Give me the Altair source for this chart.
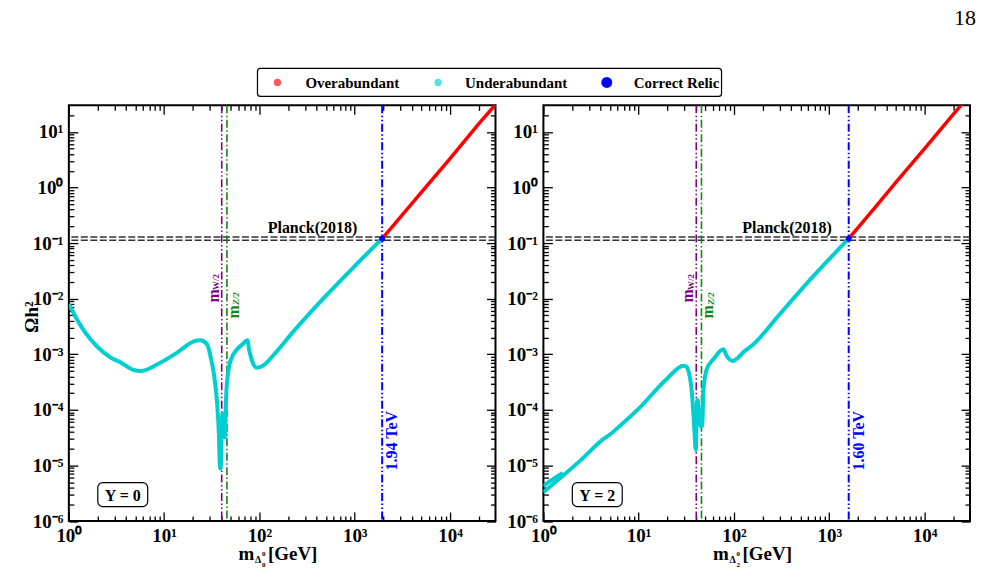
import altair as alt
import pandas as pd

SERIF = "Liberation Serif"

# ---------------- data ----------------
# Relic abundance vs. neutral scalar mass, hypercharge Y = 0
Y0_UNDER_M = [1.0, 1.09, 1.45, 2.0, 2.75, 3.5, 4.8, 5.7, 8.5, 13.7,
              20.5, 24.1, 28.3, 30.7, 33.2, 36.1, 37.5, 38.4, 39.0, 39.8,
              40.8, 41.5, 42.5, 43.3, 44.0, 45.0, 47.0, 49.7, 58.4, 66.0,
              75.4, 77.3, 81.8, 87.0, 94.6, 110.0, 130.0, 160.0, 220.0, 500.0,
              1000.0, 1940.0]
Y0_UNDER_OMEGA = [8.0e-3, 6.0e-3, 2.6e-3, 1.35e-3, 8.7e-4, 7.1e-4, 5.2e-4, 5.0e-4, 6.6e-4, 1.07e-3,
                  1.7e-3, 1.79e-3, 1.5e-3, 9.0e-4, 4.5e-4, 1.2e-4, 3.7e-5, 1.0e-5, 8.7e-6, 2.5e-5,
                  8.5e-5, 6.0e-5, 3.5e-5, 3.2e-5, 8.4e-5, 2.2e-4, 4.8e-4, 7.6e-4, 1.23e-3, 1.5e-3,
                  1.78e-3, 1.3e-3, 8.7e-4, 6.4e-4, 5.7e-4, 6.3e-4, 8.3e-4, 1.25e-3, 2.4e-3, 1.13e-2,
                  3.86e-2, 0.12]
Y0_OVER_M = [1940.0, 3000.0, 5000.0, 10000.0, 20000.0, 30000.0]
Y0_OVER_OMEGA = [0.12, 0.29, 0.82, 3.3, 14.0, 31.0]
Y0_RELIC = [1940.0, 0.12]

# hypercharge Y = 2
Y2_UNDER_M = [1.0, 1.51, 2.44, 4.28, 5.0, 6.4, 10.0, 19.7, 29.5, 31.5,
              33.3, 36.0, 38.1, 39.7, 40.5, 41.5, 43.0, 45.0, 46.5, 47.7,
              51.8, 60.8, 77.4, 84.0, 97.0, 130.0, 159.0, 300.0, 700.0, 1600.0]
Y2_UNDER_OMEGA = [3.3e-6, 6.0e-6, 1.22e-5, 3.0e-5, 3.6e-5, 5.2e-5, 1.05e-4, 3.6e-4, 6.2e-4, 6.0e-4,
                  5.0e-4, 2.2e-4, 5.6e-5, 1.9e-5, 6.0e-5, 1.5e-4, 9.0e-5, 5.0e-5, 5.2e-5, 2.2e-4,
                  5.4e-4, 8.1e-4, 1.23e-3, 9.3e-4, 7.6e-4, 1.15e-3, 1.5e-3, 5.2e-3, 2.67e-2, 0.12]
# upper edge of the scan band at low mass
Y2_BAND_M = [1.0, 1.25, 1.6]
Y2_BAND_OMEGA = [4.3e-6, 5.6e-6, 7.3e-6]
Y2_OVER_M = [1600.0, 3000.0, 5000.0, 10000.0, 20000.0, 26000.0]
Y2_OVER_OMEGA = [0.12, 0.43, 1.23, 5.0, 20.7, 35.0]
Y2_RELIC = [1600.0, 0.12]

PLANCK_BAND = [0.112, 0.128]
PLANCK_TEXT_M = 360.0
M_W_HALF = 40.19
M_Z_HALF = 45.59

LEGEND_LABELS = ["Overabundant", "Underabundant", "Correct Relic"]
LEGEND_COLORS = ["#ff0000", "#00ced1", "#0000ff"]
LEGEND_OPACITY = [0.65, 0.65, 1.0]
LEGEND_SIZE = [55, 55, 120]

X_MAJOR = [1, 10, 100, 1000, 10000]
X_MAJOR_LABELS = ["10⁰", "10¹", "10²", "10³", "10⁴"]
Y_MAJOR = [1e-6, 1e-5, 1e-4, 1e-3, 1e-2, 1e-1, 1, 10]
Y_MAJOR_LABELS = ["10⁻⁶", "10⁻⁵", "10⁻⁴", "10⁻³", "10⁻²", "10⁻¹", "10⁰", "10¹"]
X_TICKS = [d * v for v in X_MAJOR for d in range(1, 10) if d * v <= 20000]
Y_TICKS = [float(f"{d * v:.3g}") for v in Y_MAJOR for d in range(1, 10) if d * v <= 20]

CYAN, RED, BLUE = "#00ced1", "#ff0000", "#0000ff"
PURPLE, GREEN = "#800080", "#118811"
DASH_DOT = [8, 2.5, 1.5, 2.5]
DASH_DOT_DOT = [8, 2.5, 1.5, 2.5, 1.5, 2.5]

W, H = 427.5, 416.5
XS = alt.Scale(type="log", domain=[1, 30000], nice=False)
YS = alt.Scale(type="log", domain=[1e-6, 30], nice=False)


def label_expr(values, labels):
    parts = [f"datum.value == {v!r} ? '{t}'" for v, t in zip(values, labels)]
    return " : ".join(parts) + " : ''"


def tick_size(major):
    # inward ticks: long on decades, short in between
    return {"condition": {"test": f"indexof({major!r}, datum.value) >= 0", "value": -9},
            "value": -5}


def axis(orient, values, major, labels=None):
    kw = dict(orient=orient, values=values, tickSize=tick_size(major), tickColor="black",
              tickWidth=1.3, domain=False, grid=False, title=None)
    if labels:
        kw.update(labelExpr=label_expr(major, labels), labelFont=SERIF, labelFontSize=19,
                  labelFontWeight="bold", labelColor="black", labelPadding=15,
                  labelFlush=False, labelOverlap=False)
    else:
        kw.update(labels=False)
    return alt.Axis(**kw)


ONE = pd.DataFrame({"k": [0]})


def text_px(text, px, py, size, **style):
    return alt.Chart(ONE).mark_text(text=text, font=SERIF, fontSize=size, **style).encode(
        x=alt.value(px), y=alt.value(py))


def vtext_on_m(text, m, py, size, shift, **style):
    # vertical label beside a mass line; with angle 270 the dy offset moves it sideways
    return alt.Chart(pd.DataFrame({"m": [m]})).mark_text(
        text=text, font=SERIF, fontSize=size, fontWeight="bold", angle=270, dy=shift,
        align="center", baseline="middle", **style
    ).encode(x=alt.X("m:Q", scale=XS, axis=None), y=alt.value(py))


def vline(m, color, dash, width=1.6):
    return alt.Chart(pd.DataFrame({"m": [m]})).mark_rule(
        color=color, strokeDash=dash, strokeWidth=width
    ).encode(x=alt.X("m:Q", scale=XS, axis=None))


def panel(under_m, under_om, over_m, over_om, relic, tev_text, y_text, sub_digit,
          band=None, first=True):
    under = pd.DataFrame({"m": under_m, "omega": under_om, "seg": "main"})
    if band:
        under = pd.concat([under, pd.DataFrame({"m": band[0], "omega": band[1], "seg": "edge"})])
    over = pd.DataFrame({"m": over_m, "omega": over_om})
    layers = []

    if first:
        # transparent rectangle spanning the whole page fixes the outer bounds
        layers.append(alt.Chart(ONE).mark_rect(opacity=0).encode(
            x=alt.value(-68), x2=alt.value(915), y=alt.value(-104), y2=alt.value(468)))

    layers.append(alt.Chart(pd.DataFrame({"omega": PLANCK_BAND})).mark_rule(
        color="#333333", strokeDash=[7, 2.5], strokeWidth=1.5
    ).encode(y=alt.Y("omega:Q", scale=YS, axis=None)))

    layers += [vline(M_W_HALF, PURPLE, DASH_DOT_DOT),
               vline(M_Z_HALF, GREEN, DASH_DOT),
               vline(relic[0], BLUE, DASH_DOT_DOT, 2.0)]

    layers.append(alt.Chart(under).mark_line(
        color=CYAN, strokeWidth=4, clip=True, interpolate="monotone"
    ).encode(
        x=alt.X("m:Q", scale=XS, axis=axis("bottom", X_TICKS, X_MAJOR, X_MAJOR_LABELS)),
        y=alt.Y("omega:Q", scale=YS, axis=axis("left", Y_TICKS, Y_MAJOR, Y_MAJOR_LABELS)),
        detail="seg:N"))
    layers.append(alt.Chart(over).mark_line(color=RED, strokeWidth=3.5, clip=True).encode(
        x=alt.X("m:Q", scale=XS, axis=axis("top", X_TICKS, X_MAJOR)),
        y=alt.Y("omega:Q", scale=YS, axis=axis("right", Y_TICKS, Y_MAJOR))))
    layers.append(alt.Chart(pd.DataFrame({"m": [relic[0]], "omega": [relic[1]]})).mark_point(
        filled=True, color=BLUE, size=35, opacity=1
    ).encode(x=alt.X("m:Q", scale=XS, axis=None), y=alt.Y("omega:Q", scale=YS, axis=None)))

    # Planck band label
    layers.append(alt.Chart(pd.DataFrame({"m": [PLANCK_TEXT_M], "omega": [PLANCK_BAND[1]]})).mark_text(
        text="Planck(2018)", font=SERIF, fontSize=16, fontWeight="bold", baseline="alphabetic", dy=-4
    ).encode(x=alt.X("m:Q", scale=XS, axis=None), y=alt.Y("omega:Q", scale=YS, axis=None)))

    # threshold labels
    layers += [
        vtext_on_m("m", M_W_HALF, 191, 16, -8, color=PURPLE),
        vtext_on_m("W/2", M_W_HALF, 177, 9, -5.5, color=PURPLE),
        vtext_on_m("m", M_Z_HALF, 207, 16, 7, color=GREEN),
        vtext_on_m("Z/2", M_Z_HALF, 193.5, 9, 9.5, color=GREEN, fontStyle="italic"),
        vtext_on_m(tev_text, relic[0], 336, 16, 10, color=BLUE),
    ]

    # hypercharge box
    layers.append(alt.Chart(ONE).mark_rect(
        fill="white", stroke="black", strokeWidth=1.2, cornerRadius=5
    ).encode(x=alt.value(29), x2=alt.value(79), y=alt.value(378), y2=alt.value(402)))
    layers.append(text_px(y_text, 54, 391, 16, fontWeight="bold", baseline="middle"))

    # x-axis title built from pieces (subscript / superscript)
    layers += [
        text_px("m", 170, 456, 19, fontWeight="bold", align="left", baseline="alphabetic"),
        text_px("Δ", 186.5, 459, 10, fontWeight="bold", align="left", baseline="alphabetic"),
        text_px("0", 193.5, 452, 7, fontWeight="bold", align="left", baseline="alphabetic"),
        text_px(sub_digit, 193.5, 463, 7, fontWeight="bold", align="left", baseline="alphabetic"),
        text_px("[GeV]", 199.5, 456, 19, fontWeight="bold", align="left", baseline="alphabetic"),
    ]

    if first:
        layers.append(text_px("Ωh²", -37, 212, 19, fontWeight="bold", angle=270,
                              align="center", baseline="middle"))
        # legend row above the panels
        layers.append(alt.Chart(ONE).mark_rect(
            fill="white", stroke="black", strokeWidth=1.2, cornerRadius=3
        ).encode(x=alt.value(189), x2=alt.value(654), y=alt.value(-37), y2=alt.value(-9)))
        dot_x = [209, 370, 539]
        text_x = [237, 397, 566]
        for lab, col, op, sz, dx_, tx in zip(LEGEND_LABELS, LEGEND_COLORS, LEGEND_OPACITY,
                                             LEGEND_SIZE, dot_x, text_x):
            layers.append(alt.Chart(ONE).mark_point(
                filled=True, color=col, opacity=op, size=sz
            ).encode(x=alt.value(dx_), y=alt.value(-23)))
            layers.append(text_px(lab, tx, -22.5, 15, fontWeight="bold", align="left",
                                  baseline="middle"))
    else:
        layers.append(text_px("18", 422.5, -81, 22, align="center", baseline="alphabetic"))

    return alt.layer(*layers).resolve_axis(x="independent", y="independent").properties(
        width=W, height=H)


left = panel(Y0_UNDER_M, Y0_UNDER_OMEGA, Y0_OVER_M, Y0_OVER_OMEGA, Y0_RELIC,
             "1.94 TeV", "Y = 0", "0", first=True)
right = panel(Y2_UNDER_M, Y2_UNDER_OMEGA, Y2_OVER_M, Y2_OVER_OMEGA, Y2_RELIC,
              "1.60 TeV", "Y = 2", "2", band=(Y2_BAND_M, Y2_BAND_OMEGA), first=False)

chart = alt.hconcat(left, right, spacing=47.5, bounds="flush").properties(
    padding=0, background="white"
).configure_view(stroke="black", strokeWidth=2)

chart.save("out.html", embed_options={"renderer": "svg", "actions": False})
